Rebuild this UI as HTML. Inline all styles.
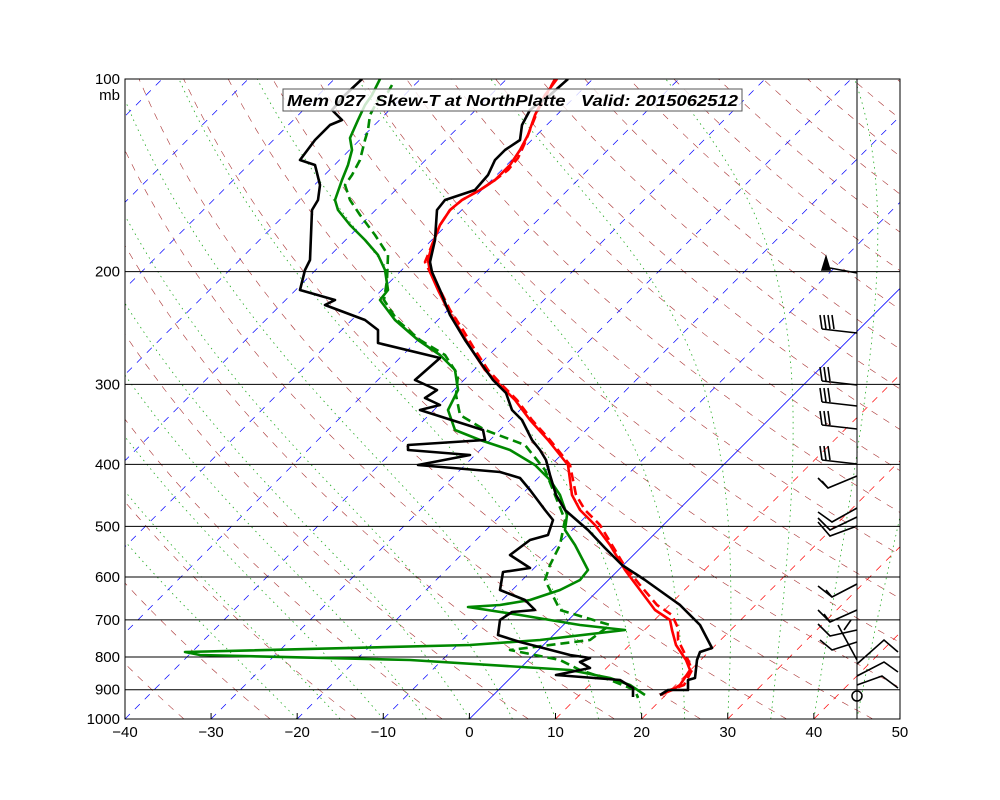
<!DOCTYPE html>
<html><head><meta charset="utf-8"><style>
html,body{margin:0;padding:0;background:#fff;}
svg{display:block;font-family:"Liberation Sans",sans-serif;}
</style></head><body>
<svg id="s" width="1000" height="800" viewBox="0 0 1000 800" xmlns="http://www.w3.org/2000/svg">
<defs><clipPath id="c"><rect x="125" y="79" width="775" height="640"/></clipPath><clipPath id="c2"><rect x="125" y="79" width="732" height="640"/></clipPath></defs>
<rect width="1000" height="800" fill="#fff"/>
<g id="bg" clip-path="url(#c)"></g>
<g id="data" clip-path="url(#c2)" fill="none" stroke-width="2.6" stroke-linejoin="round"></g>
<g id="wind" stroke="#000" stroke-width="1.6" fill="none"></g>
<circle cx="857" cy="696" r="5" fill="none" stroke="#000" stroke-width="1.5"/>
<rect x="125" y="79" width="775" height="640" fill="none" stroke="#000" stroke-width="1"/>
<line x1="857" y1="79" x2="857" y2="719" stroke="#000" stroke-width="1"/>
<rect x="283" y="89" width="459" height="22" fill="#fff" fill-opacity="0.8" stroke="#555" stroke-width="1"/>
<text x="287" y="106" font-size="16" font-weight="bold" font-style="italic" textLength="451" lengthAdjust="spacingAndGlyphs" style="white-space:pre" xml:space="preserve">Mem 027  Skew-T at NorthPlatte   Valid: 2015062512</text>
<g id="ax" font-size="15"></g>
</svg>
<script>
const NS="http://www.w3.org/2000/svg";
function yP(p){return 79+640*Math.log10(p/100);}
function xT(T,p){return 469.4+8.611*T+(719-yP(p));}
function el(g,tag,a){const e=document.createElementNS(NS,tag);for(const k in a)e.setAttribute(k,a[k]);g.appendChild(e);return e;}
const bg=document.getElementById('bg');
for(let th=230;th<=480;th+=10){let d='';for(let p=1000;p>=100;p-=10){const T=th*Math.pow(p/1000,0.286)-273.15;d+=(d?'L':'M')+xT(T,p).toFixed(1)+','+yP(p).toFixed(1);}
el(bg,'path',{d:d,stroke:'#a33',fill:'none','stroke-width':0.6,'stroke-dasharray':'7,7'});}
function es(T){return 6.112*Math.exp(17.67*T/(T+243.5));}
for(let T0=-20;T0<=45;T0+=5){let T=T0,d='';for(let p=1000;p>=100;p-=2){d+=(d?'L':'M')+xT(T,p).toFixed(1)+','+yP(p).toFixed(1);
const Tk=T+273.15,rs=0.622*es(T)/(p-es(T)),L=2.5e6;
const dTdp=(287*Tk+L*rs)/(p*(1004+L*L*rs*0.622/(287*Tk*Tk)));T-=dTdp*2;}
el(bg,'path',{d:d,stroke:'#2a2',fill:'none','stroke-width':0.8,'stroke-dasharray':'1.5,4'});}
for(let T=-150;T<=60;T+=10){const x1=xT(T,1000),y1=719,x2=x1+700,y2=19;
if(T===0)el(bg,'line',{x1:x1,y1:y1,x2:x2,y2:y2,stroke:'#00f','stroke-width':0.8});
else el(bg,'line',{x1:x1,y1:y1,x2:x2,y2:y2,stroke:T<0?'#00f':'#f00','stroke-width':0.7,'stroke-dasharray':'7,7'});}
for(let p=200;p<=900;p+=100)el(bg,'line',{x1:125,x2:900,y1:yP(p),y2:yP(p),stroke:'#000','stroke-width':1});
const ax=document.getElementById('ax');
for(let t=-40;t<=50;t+=10){const x=469.4+8.611*t;el(ax,'line',{x1:x,x2:x,y1:719,y2:713,stroke:'#000'});
const tx=el(ax,'text',{x:x,y:737,'text-anchor':'middle'});tx.textContent=(t<0?'\u2212'+(-t):t);}
[100,200,300,400,500,600,700,800,900,1000].forEach(p=>{const tx=el(ax,'text',{x:120,y:yP(p)+5,'text-anchor':'end'});tx.textContent=p;});
const mb=el(ax,'text',{x:120,y:100,'text-anchor':'end'});mb.textContent='mb';
const dg=document.getElementById('data');
function pl(pts,col,dash){el(dg,'path',{d:'M'+pts.map(p=>p.join(',')).join('L'),stroke:col,'stroke-dasharray':dash||'none'});}
pl([[392,85],[388,92],[378,100],[370,115],[368,130],[365,140],[360,160],[352,175],[345,185],[350,200],[360,215],[375,235],[388,255],[387,280],[384,300],[397,320],[420,340],[445,355],[458,375],[456,395],[460,415],[485,430],[525,445],[545,470],[555,495],[565,520],[560,545],[550,565],[545,580],[560,610],[610,625],[590,640],[510,650],[560,660],[580,670],[610,680],[635,690],[638,698]],'#080','9,5');
pl([[380,79],[372,95],[365,105],[358,120],[350,138],[352,150],[348,165],[342,180],[335,200],[338,210],[350,225],[365,240],[378,255],[385,270],[388,290],[380,300],[395,320],[418,340],[440,355],[455,370],[458,390],[448,410],[455,430],[480,440],[510,450],[535,465],[550,480],[560,495],[567,515],[565,530],[575,545],[588,570],[580,580],[560,590],[530,600],[500,605],[468,607],[520,615],[580,625],[625,630],[540,640],[470,645],[185,652],[200,655],[410,660],[570,670],[610,678],[630,685],[645,695]],'#080');
pl([[555,79],[548,92],[538,110],[530,130],[524,145],[518,158],[508,170],[495,180],[480,190],[462,200],[450,210],[440,225],[432,245],[425,262],[430,272],[440,290],[450,310],[463,330],[475,350],[488,370],[502,385],[517,400],[532,420],[550,440],[562,455],[570,465],[573,480],[576,495],[585,510],[600,525],[612,545],[624,565],[640,585],[657,605],[672,615],[678,628],[678,640],[688,660],[692,670],[684,685],[670,690],[660,695]],'#f00','9,5');
pl([[557,79],[545,95],[535,115],[528,135],[520,150],[510,165],[495,180],[480,190],[462,200],[450,210],[440,225],[432,245],[428,260],[430,272],[438,290],[448,310],[460,330],[472,350],[485,370],[500,385],[515,400],[530,420],[548,440],[560,455],[568,465],[570,480],[572,495],[580,510],[595,525],[610,545],[625,570],[640,590],[655,610],[670,620],[672,630],[676,645],[686,660],[690,670],[680,685],[672,690],[660,695]],'#f00');
pl([[568,79],[550,95],[530,110],[522,125],[520,140],[505,150],[495,160],[488,175],[475,190],[445,200],[437,210],[435,240],[430,262],[432,272],[440,290],[450,315],[465,340],[480,362],[493,380],[506,393],[512,410],[522,420],[532,440],[540,450],[546,460],[550,475],[556,495],[565,510],[588,530],[605,548],[622,565],[645,580],[680,605],[700,625],[712,648],[700,652],[697,660],[695,678],[688,680],[688,690],[668,690],[660,695]],'#000');
pl([[362,79],[345,95],[332,110],[342,120],[330,125],[315,140],[300,160],[315,165],[320,185],[318,200],[312,210],[310,260],[305,270],[300,290],[335,300],[325,305],[365,320],[378,330],[378,343],[440,358],[415,380],[437,390],[425,398],[440,405],[420,410],[483,430],[485,440],[408,445],[408,450],[470,455],[418,465],[500,472],[520,478],[530,490],[545,510],[553,520],[548,535],[530,540],[510,555],[530,568],[503,572],[500,590],[525,600],[535,610],[512,612],[500,620],[498,635],[520,642],[570,655],[590,658],[580,662],[590,668],[556,675],[620,680],[633,688],[633,697]],'#000');
const wg=document.getElementById('wind');
function L(a){el(wg,'polyline',{points:a.map(p=>p.join(',')).join(' ')});}
L([[857,273],[830,268]]);el(wg,'polygon',{points:'822,270 826,257 830,270',fill:'#000'});
[[333,4],[385,3],[406,3],[429,3],[464,3]].forEach(([y,n])=>{L([[857,y],[822,y-4]]);for(let i=0;i<n;i++)L([[822+i*4,y-4],[820+i*4,y-18]]);});
L([[857,476],[828,488],[818,478]]);L([[828,488],[822,481]]);
L([[857,508],[832,522],[818,512]]);L([[857,517],[830,530],[818,518]]);L([[857,526],[830,536],[818,522]]);
L([[857,584],[832,597],[818,586]]);L([[832,597],[826,590]]);
L([[857,610],[830,622],[818,610]]);L([[830,622],[824,614]]);
L([[857,630],[830,636],[818,624]]);L([[857,642],[832,650],[820,640]]);L([[857,660],[838,625]]);L([[844,630],[851,620]]);
L([[857,664],[884,640],[898,652]]);L([[857,676],[884,662],[898,672]]);L([[857,685],[882,676],[898,688]]);
</script>
</body></html>
